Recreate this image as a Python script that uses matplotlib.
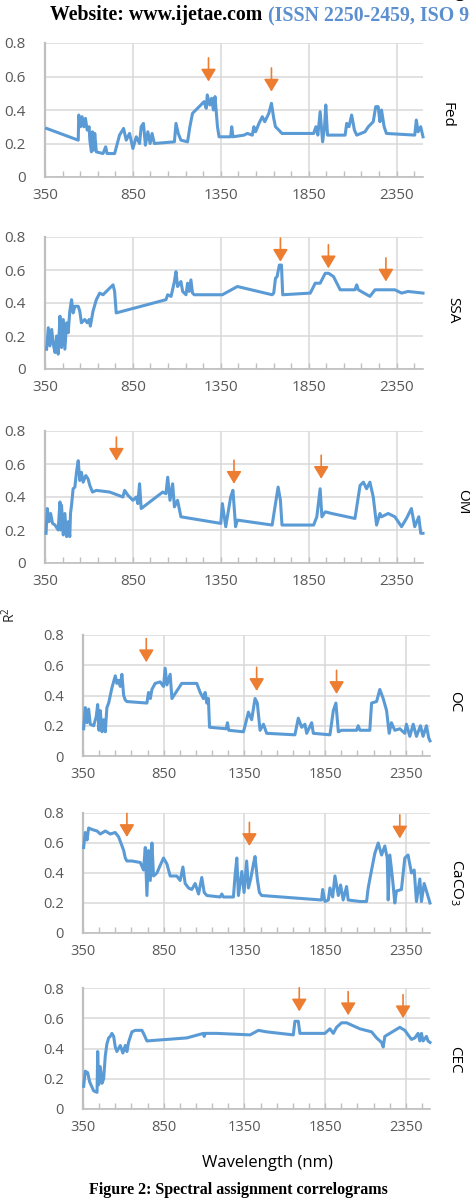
import matplotlib
matplotlib.use("Agg")
import matplotlib.pyplot as plt
from matplotlib.ticker import FixedLocator

# ---------------- data ----------------
x_major = [350, 850, 1350, 1850, 2350]
x_major_labels = ["350", "850", "1350", "1850", "2350"]
x_minor = [450, 550, 650, 750, 950, 1050, 1150, 1250, 1450, 1550, 1650, 1750,
           1950, 2050, 2150, 2250, 2450]
y_ticks = [0, 0.2, 0.4, 0.6, 0.8]
y_tick_labels = ["0", "0.2", "0.4", "0.6", "0.8"]

fed_wl = [359, 539, 542, 552, 561, 571, 580, 590, 601, 605, 614, 620, 627, 633, 642, 680,
          695, 703, 746, 774, 797, 812, 831, 850, 869, 888, 897, 910, 921, 935, 948, 959,
          972, 1086, 1095, 1108, 1123, 1161, 1174, 1189, 1227, 1255, 1267, 1273, 1287, 1298,
          1308, 1317, 1331, 1340, 1406, 1412, 1419, 1482, 1501, 1529, 1538, 1548, 1567, 1586,
          1600, 1623, 1638, 1651, 1661, 1680, 1698, 1878, 1891, 1902, 1915, 1929, 1940, 1947,
          1957, 2057, 2066, 2079, 2094, 2110, 2123, 2170, 2189, 2217, 2231, 2245, 2255, 2264,
          2279, 2292, 2453, 2462, 2472, 2487, 2500]
fed_r2 = [0.29, 0.22, 0.37, 0.30, 0.36, 0.30, 0.35, 0.28, 0.30, 0.22, 0.15, 0.27, 0.16, 0.26,
          0.15, 0.14, 0.18, 0.14, 0.14, 0.25, 0.29, 0.22, 0.26, 0.17, 0.24, 0.20, 0.30, 0.32,
          0.19, 0.27, 0.20, 0.26, 0.20, 0.21, 0.32, 0.26, 0.22, 0.21, 0.30, 0.38, 0.42, 0.45,
          0.41, 0.49, 0.43, 0.47, 0.40, 0.48, 0.30, 0.24, 0.24, 0.30, 0.24, 0.25, 0.26, 0.25,
          0.30, 0.27, 0.32, 0.36, 0.33, 0.38, 0.44, 0.35, 0.30, 0.28, 0.26, 0.26, 0.30, 0.25,
          0.39, 0.21, 0.30, 0.43, 0.25, 0.25, 0.32, 0.30, 0.37, 0.28, 0.25, 0.27, 0.30, 0.33,
          0.42, 0.42, 0.33, 0.40, 0.30, 0.26, 0.25, 0.34, 0.27, 0.30, 0.24]
fed_arrow_wl = [1280, 1638]
fed_arrow_r2 = [0.57, 0.51]

ssa_wl = [359, 369, 378, 388, 397, 407, 416, 425, 435, 444, 454, 463, 473, 482, 491, 501,
          510, 520, 539, 548, 557, 576, 590, 601, 608, 623, 642, 661, 680, 699, 718, 737,
          746, 755, 1038, 1048, 1067, 1086, 1095, 1104, 1123, 1133, 1152, 1161, 1170, 1180,
          1189, 1199, 1359, 1444, 1642, 1651, 1661, 1670, 1683, 1695, 1702, 1859, 1887, 1915,
          1944, 1963, 1991, 2029, 2113, 2123, 2132, 2198, 2227, 2340, 2378, 2415, 2500]
ssa_r2 = [0.12, 0.25, 0.14, 0.24, 0.15, 0.10, 0.20, 0.09, 0.32, 0.13, 0.30, 0.12, 0.28, 0.22,
          0.35, 0.42, 0.34, 0.38, 0.38, 0.35, 0.28, 0.30, 0.28, 0.30, 0.26, 0.35, 0.42, 0.46,
          0.45, 0.47, 0.49, 0.51, 0.47, 0.34, 0.42, 0.45, 0.44, 0.53, 0.59, 0.50, 0.53, 0.47,
          0.45, 0.52, 0.47, 0.54, 0.46, 0.45, 0.45, 0.50, 0.45, 0.46, 0.55, 0.56, 0.63, 0.63,
          0.45, 0.46, 0.52, 0.52, 0.58, 0.58, 0.56, 0.48, 0.48, 0.51, 0.48, 0.44, 0.48, 0.48,
          0.46, 0.47, 0.46]
ssa_arrow_wl = [1689, 1962, 2289]
ssa_arrow_r2 = [0.65, 0.61, 0.53]

om_wl = [356, 363, 373, 382, 393, 407, 425, 435, 439, 444, 454, 463, 473, 482, 491, 495,
         501, 510, 520, 529, 539, 548, 557, 567, 582, 595, 605, 620, 642, 718, 793, 803,
         822, 850, 869, 878, 888, 897, 1020, 1038, 1048, 1061, 1076, 1086, 1104, 1123, 1350,
         1359, 1378, 1406, 1419, 1434, 1444, 1642, 1661, 1676, 1689, 1698, 1878, 1896, 1915,
         1925, 1944, 1981, 2113, 2142, 2161, 2179, 2198, 2217, 2236, 2255, 2264, 2302, 2340,
         2378, 2406, 2434, 2453, 2476, 2487, 2500]
om_r2 = [0.18, 0.33, 0.25, 0.30, 0.24, 0.23, 0.20, 0.37, 0.20, 0.35, 0.17, 0.30, 0.16, 0.25,
         0.16, 0.30, 0.35, 0.45, 0.46, 0.55, 0.62, 0.50, 0.55, 0.49, 0.53, 0.51, 0.47, 0.43,
         0.44, 0.43, 0.40, 0.44, 0.41, 0.38, 0.40, 0.36, 0.48, 0.33, 0.43, 0.42, 0.52, 0.38,
         0.48, 0.34, 0.38, 0.28, 0.24, 0.36, 0.22, 0.40, 0.44, 0.22, 0.26, 0.23, 0.36, 0.46,
         0.38, 0.23, 0.23, 0.28, 0.45, 0.28, 0.31, 0.30, 0.27, 0.47, 0.49, 0.45, 0.49, 0.40,
         0.23, 0.30, 0.28, 0.30, 0.28, 0.22, 0.27, 0.33, 0.22, 0.28, 0.18, 0.18]
om_arrow_wl = [756, 1425, 1921]
om_arrow_r2 = [0.62, 0.48, 0.51]

oc_wl = [354, 364, 375, 385, 395, 416, 432, 441, 449, 457, 468, 478, 488, 498, 509, 529,
         550, 560, 571, 581, 591, 602, 612, 622, 746, 756, 767, 777, 797, 828, 849, 859,
         870, 890, 901, 962, 1055, 1076, 1096, 1107, 1117, 1127, 1134, 1237, 1245, 1253,
         1344, 1354, 1375, 1395, 1416, 1430, 1447, 1468, 1488, 1663, 1684, 1705, 1725, 1736,
         1767, 1777, 1880, 1901, 1917, 1932, 1952, 2045, 2055, 2066, 2127, 2138, 2169, 2189,
         2210, 2231, 2247, 2261, 2282, 2313, 2344, 2354, 2375, 2396, 2416, 2441, 2457, 2478,
         2492, 2500]
oc_r2 = [0.18, 0.32, 0.22, 0.31, 0.21, 0.20, 0.26, 0.34, 0.17, 0.30, 0.16, 0.24, 0.16, 0.32,
         0.35, 0.45, 0.53, 0.48, 0.50, 0.46, 0.54, 0.40, 0.37, 0.36, 0.35, 0.42, 0.38, 0.44,
         0.48, 0.49, 0.46, 0.58, 0.47, 0.54, 0.38, 0.48, 0.48, 0.42, 0.38, 0.42, 0.35, 0.38,
         0.19, 0.18, 0.22, 0.17, 0.16, 0.20, 0.29, 0.24, 0.38, 0.35, 0.17, 0.21, 0.15, 0.14,
         0.25, 0.19, 0.21, 0.15, 0.22, 0.15, 0.14, 0.30, 0.35, 0.16, 0.17, 0.17, 0.20, 0.17,
         0.17, 0.35, 0.36, 0.44, 0.38, 0.30, 0.15, 0.22, 0.17, 0.18, 0.15, 0.21, 0.13, 0.21,
         0.13, 0.20, 0.13, 0.20, 0.12, 0.10]
oc_arrow_wl = [742, 1426, 1921]
oc_arrow_r2 = [0.62, 0.43, 0.41]

caco3_wl = [354, 364, 375, 385, 406, 437, 457, 488, 519, 550, 571, 585, 602, 612, 622, 653,
            705, 725, 736, 746, 756, 767, 777, 787, 808, 828, 849, 870, 890, 931, 952, 969,
            983, 1004, 1024, 1045, 1066, 1086, 1101, 1117, 1200, 1210, 1220, 1282, 1292, 1303,
            1313, 1334, 1348, 1364, 1375, 1389, 1406, 1416, 1430, 1443, 1457, 1828, 1835, 1849,
            1870, 1880, 1897, 1911, 1932, 1946, 1962, 1983, 1993, 2066, 2107, 2117, 2138, 2158,
            2179, 2200, 2220, 2235, 2241, 2251, 2268, 2282, 2292, 2323, 2344, 2364, 2385, 2402,
            2416, 2437, 2447, 2464, 2478, 2500]
caco3_r2 = [0.57, 0.67, 0.62, 0.70, 0.69, 0.68, 0.66, 0.68, 0.66, 0.67, 0.64, 0.60, 0.55, 0.50,
            0.48, 0.48, 0.47, 0.42, 0.57, 0.25, 0.55, 0.35, 0.60, 0.38, 0.40, 0.45, 0.50, 0.46,
            0.38, 0.38, 0.35, 0.44, 0.33, 0.30, 0.29, 0.33, 0.26, 0.37, 0.27, 0.25, 0.24, 0.26,
            0.24, 0.24, 0.38, 0.50, 0.25, 0.41, 0.27, 0.48, 0.30, 0.36, 0.46, 0.51, 0.36, 0.27,
            0.25, 0.22, 0.29, 0.21, 0.22, 0.30, 0.24, 0.38, 0.25, 0.32, 0.22, 0.31, 0.22, 0.21,
            0.21, 0.30, 0.42, 0.53, 0.60, 0.52, 0.58, 0.50, 0.22, 0.52, 0.36, 0.20, 0.28, 0.29,
            0.50, 0.52, 0.40, 0.42, 0.21, 0.36, 0.21, 0.33, 0.28, 0.20]
caco3_arrow_wl = [622, 1381, 2313]
caco3_arrow_r2 = [0.64, 0.58, 0.63]

cec_wl = [354, 364, 379, 391, 416, 437, 441, 447, 457, 468, 478, 488, 498, 509, 519, 529,
          540, 550, 560, 581, 597, 612, 622, 632, 653, 674, 715, 725, 746, 870, 993, 1096,
          1101, 1107, 1179, 1385, 1437, 1488, 1653, 1663, 1684, 1694, 1798, 1849, 1880, 1901,
          1921, 1952, 1983, 2066, 2138, 2169, 2200, 2210, 2220, 2251, 2282, 2313, 2344, 2385,
          2406, 2426, 2437, 2447, 2457, 2478, 2488, 2500]
cec_r2 = [0.15, 0.25, 0.24, 0.18, 0.12, 0.11, 0.38, 0.16, 0.28, 0.17, 0.20, 0.35, 0.43, 0.47,
          0.48, 0.50, 0.48, 0.41, 0.38, 0.42, 0.37, 0.42, 0.38, 0.44, 0.51, 0.52, 0.52, 0.50,
          0.45, 0.46, 0.47, 0.50, 0.48, 0.50, 0.50, 0.49, 0.52, 0.51, 0.49, 0.58, 0.58, 0.50,
          0.50, 0.50, 0.53, 0.50, 0.54, 0.57, 0.57, 0.53, 0.51, 0.47, 0.44, 0.41, 0.48, 0.50,
          0.52, 0.54, 0.52, 0.46, 0.47, 0.50, 0.45, 0.50, 0.45, 0.48, 0.45, 0.44]
cec_arrow_wl = [1690, 1993, 2333]
cec_arrow_r2 = [0.645, 0.62, 0.60]

panel_labels = ["Fed", "SSA", "OM", "OC", "CaCO$_3$", "CEC"]

# ---------------- style ----------------
plt.rcParams["mathtext.default"] = "regular"
LINE = "#5B9BD5"
ARROW = "#ED7D31"
GRID = "#D9D9D9"
SPINE = "#BFBFBF"
TICKTXT = "#595959"
FONT = ["Open Sans", "DejaVu Sans"]

W, H = 470, 1198
fig = plt.figure(figsize=(W / 100, H / 100), dpi=100)

# pixel boxes: left, right(=2500 nm), top(=0.8), bottom(=0)
boxes = [(45, 423, 43, 177), (45, 423, 237, 369), (45, 423, 431, 563),
         (83, 430, 635, 756), (83, 430, 813, 933), (83, 430, 988, 1109)]
label_pos = [(447, 115), (453, 310), (463, 502), (455, 702), (456, 883), (455, 1060)]

series = [(fed_wl, fed_r2, fed_arrow_wl, fed_arrow_r2),
          (ssa_wl, ssa_r2, ssa_arrow_wl, ssa_arrow_r2),
          (om_wl, om_r2, om_arrow_wl, om_arrow_r2),
          (oc_wl, oc_r2, oc_arrow_wl, oc_arrow_r2),
          (caco3_wl, caco3_r2, caco3_arrow_wl, caco3_arrow_r2),
          (cec_wl, cec_r2, cec_arrow_wl, cec_arrow_r2)]

for i, ((wl, r2, awl, ar2), (l, r, t, b)) in enumerate(zip(series, boxes)):
    ax = fig.add_axes([l / W, 1 - b / H, (r - l) / W, (b - t) / H])
    ax.set_xlim(350, 2500)
    ax.set_ylim(0, 0.8)
    ax.plot(wl, r2, color=LINE, lw=2.2, solid_joinstyle="round", zorder=3, clip_on=False)
    for x, y in zip(awl, ar2):
        ax.annotate("", xy=(x, y), xytext=(0, 17), textcoords="offset points",
                    xycoords="data",
                    arrowprops=dict(arrowstyle="-|>,head_width=0.45,head_length=0.75",
                                    color=ARROW, lw=1.2, shrinkA=0, shrinkB=0),
                    annotation_clip=False, zorder=4)
    ax.xaxis.set_major_locator(FixedLocator(x_major))
    ax.xaxis.set_minor_locator(FixedLocator(x_minor))
    ax.set_xticklabels(x_major_labels)
    ax.set_yticks(y_ticks)
    ax.set_yticklabels(y_tick_labels)
    ax.grid(True, which="major", color=GRID, lw=1.1, zorder=0)
    ax.set_axisbelow(True)
    for s in ("top", "right"):
        ax.spines[s].set_visible(False)
    ax.spines["left"].set_color(SPINE)
    ax.spines["left"].set_linewidth(1.6)
    ax.spines["bottom"].set_color(SPINE)
    ax.spines["bottom"].set_linewidth(1.2)
    fs = 11 if i < 3 else 10.5
    ax.tick_params(axis="x", which="both", direction="in", length=4, width=1.0,
                   color=SPINE, pad=8, labelsize=fs, labelcolor=TICKTXT)
    ax.tick_params(axis="y", length=0, pad=14, labelsize=fs, labelcolor=TICKTXT)
    for lab in ax.get_xticklabels() + ax.get_yticklabels():
        lab.set_family(FONT)
    lx, ly = label_pos[i]
    fig.text(lx / W, 1 - ly / H, panel_labels[i], rotation=-90, ha="center", va="center",
             fontsize=11, family=FONT, color="black")

# axis titles
fig.text(10 / W, 1 - 615 / H, "R$^2$", rotation=90, ha="center", va="center",
         fontsize=10, family=FONT, color="#262626")
fig.text(267 / W, 1 - 1163 / H, "Wavelength (nm)", ha="center", va="center",
         fontsize=12, family=FONT, color="black")

# header & caption
serif = ["Liberation Serif", "DejaVu Serif"]
fig.text(466 / W, 1 + 3 / H, "ing", ha="right", va="baseline", fontsize=14,
         fontweight="bold", family=serif, color="black")
fig.text(50 / W, 1 - 15 / H, "Website: www.ijetae.com", ha="left", va="center",
         fontsize=14.3, fontweight="bold", family=serif, color="black")
fig.text(268 / W, 1 - 15 / H, "(ISSN 2250-2459, ISO 9001:2008 Certified Journal",
         ha="left", va="center", fontsize=14.3, fontweight="bold", family=serif,
         color="#5B8FD0")
fig.text(238 / W, 1 - 1190 / H, "Figure 2: Spectral assignment correlograms",
         ha="center", va="center", fontsize=11.5, fontweight="bold", family=serif,
         color="black")

fig.savefig("out.png", dpi=100, facecolor="white")
